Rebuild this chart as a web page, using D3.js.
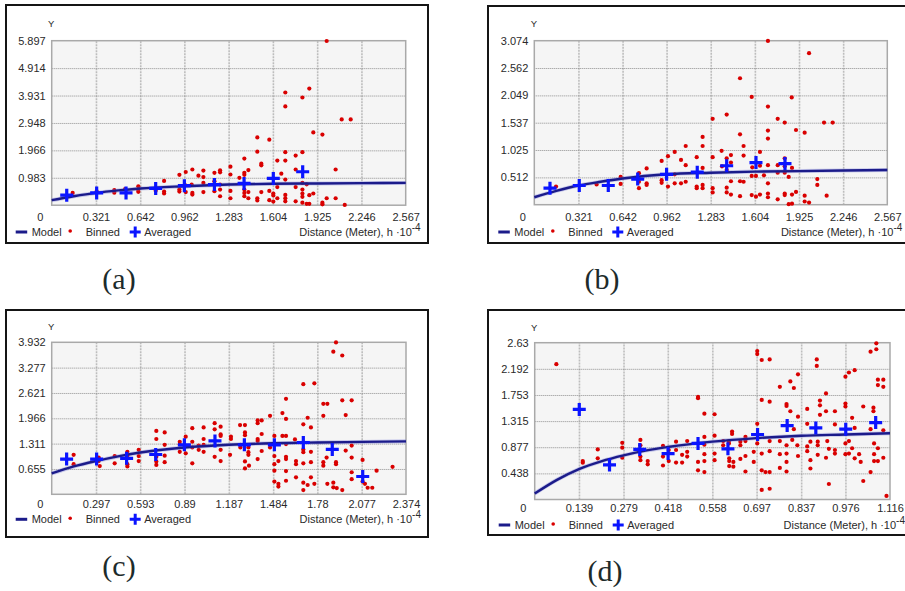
<!DOCTYPE html>
<html>
<head>
<meta charset="utf-8">
<script src="https://cdn.jsdelivr.net/npm/d3@7"></script>
<style>
  html, body { margin: 0; padding: 0; background: #ffffff; }
  svg { display: block; }
  text { font-family: "Liberation Sans", Arial, sans-serif; }
</style>
</head>
<body>
<script>
// ---------------- DATA ----------------
const xTicksAB = ["0.321","0.642","0.962","1.283","1.604","1.925","2.246","2.567"];
const yTicksA  = ["0.983","1.966","2.948","3.931","4.914","5.897"];
const yTicksB  = ["0.512","1.025","1.537","2.049","2.562","3.074"];
const xTicksC  = ["0.297","0.593","0.89","1.187","1.484","1.78","2.077","2.374"];
const yTicksC  = ["0.655","1.311","1.966","2.621","3.277","3.932"];
const xTicksD  = ["0.139","0.279","0.418","0.558","0.697","0.837","0.976","1.116"];
const yTicksD  = ["0.438","0.877","1.315","1.753","2.192","2.63"];

const legendLabels = ["Model", "Binned", "Averaged"];
const axisTitle = "Distance (Meter), h \u00B710";
const axisExp = "-4";
const captions = ["(a)", "(b)", "(c)", "(d)"];

// Binned semivariogram points [distance, gamma]
const binnedA = [
[0.152,0.44],[0.326,0.50],[0.454,0.54],[0.454,0.45],[0.532,0.58],[0.628,0.68],[0.628,0.55],[0.628,0.48],[0.754,0.52],
[0.815,0.87],[0.815,0.49],[0.815,0.42],[0.926,1.09],[0.926,0.56],[0.926,0.49],[0.972,1.19],[0.967,0.72],[0.972,0.47],
[1.020,1.28],[1.015,0.74],[1.020,0.44],[1.020,0.38],[1.064,1.06],[1.100,1.24],[1.100,1.01],[1.100,0.80],[1.100,0.47],
[1.180,1.16],[1.180,0.86],[1.180,0.50],[1.221,1.25],[1.221,1.18],[1.221,0.74],[1.221,0.56],[1.221,0.32],
[1.296,1.38],[1.296,1.10],[1.296,0.51],[1.296,0.25],[1.361,0.98],
[1.397,1.67],[1.397,1.16],[1.397,1.09],[1.397,0.56],[1.397,0.44],[1.397,0.32],[1.426,1.26],[1.426,0.47],[1.426,0.25],
[1.491,2.43],[1.491,1.92],[1.491,0.25],[1.491,0.17],[1.520,1.49],[1.520,1.43],[1.520,0.47],
[1.578,2.35],[1.578,0.51],[1.578,0.18],[1.607,0.42],[1.607,0.35],[1.607,0.13],[1.636,1.60],[1.636,0.65],[1.636,0.25],[1.665,1.13],
[1.694,4.04],[1.694,3.54],[1.694,1.90],[1.694,1.60],[1.694,0.92],[1.694,0.37],[1.694,0.25],[1.694,0.14],
[1.769,1.78],[1.769,1.28],[1.769,0.65],[1.769,0.14],
[1.818,3.86],[1.818,1.90],[1.818,0.80],[1.818,0.56],[1.818,0.42],[1.818,0.30],[1.818,0.09],
[1.849,0.75],[1.849,0.05],[1.868,4.18],[1.868,0.36],[1.868,0.05],[1.897,2.61],[1.897,0.42],
[1.963,2.53],[1.963,0.09],[1.963,0.03],[1.994,5.886],[1.994,0.25],[2.059,1.28],[2.059,0.25],
[2.103,3.075],[2.168,3.075],[2.125,0.01]
];
const binnedB = [
[0.158,0.34],[0.453,0.38],[0.628,0.52],[0.628,0.39],[0.761,0.59],[0.761,0.43],[0.761,0.31],
[0.817,0.68],[0.817,0.40],[0.817,0.37],[0.926,0.82],[0.926,0.46],[0.926,0.41],[0.972,0.91],[0.972,0.34],
[1.021,0.99],[1.021,0.57],[1.021,0.40],[1.067,0.84],[1.067,0.40],[1.101,1.10],[1.101,0.74],[1.101,0.43],
[1.181,0.89],[1.181,0.34],[1.181,0.31],[1.224,1.27],[1.224,1.10],[1.224,0.69],[1.224,0.37],[1.224,0.31],
[1.297,1.61],[1.297,0.89],[1.297,0.31],[1.297,0.23],[1.362,1.01],[1.365,0.72],
[1.399,1.69],[1.399,0.87],[1.399,0.65],[1.399,0.32],[1.399,0.23],[1.430,0.93],[1.430,0.79],[1.430,0.44],[1.430,0.19],
[1.496,2.37],[1.496,1.32],[1.496,0.44],[1.496,0.16],[1.522,1.10],[1.522,0.92],[1.522,0.43],
[1.581,2.02],[1.585,0.70],[1.581,0.54],[1.581,0.18],[1.612,0.54],[1.612,0.15],[1.641,0.99],[1.641,0.73],[1.641,0.19],[1.670,0.55],
[1.699,3.07],[1.699,1.84],[1.699,1.39],[1.699,1.24],[1.699,0.74],[1.699,0.40],[1.699,0.21],[1.699,0.14],
[1.770,1.61],[1.770,0.74],[1.770,0.60],[1.770,0.10],[1.821,1.54],[1.821,0.87],[1.821,0.72],[1.821,0.60],[1.821,0.21],[1.821,0.18],
[1.850,0.52],[1.850,0.01],[1.872,2.01],[1.874,0.69],[1.874,0.19],[1.874,0.02],[1.903,1.40],[1.903,0.24],
[1.966,1.35],[1.966,0.17],[1.966,0.06],[1.998,2.84],[1.998,0.04],[2.058,0.48],[2.058,0.37],
[2.107,1.54],[2.170,1.54],[2.126,0.17]
];
const binnedC = [
[0.147,1.02],[0.147,0.78],[0.315,0.95],[0.315,0.86],[0.322,0.73],[0.422,0.99],[0.422,0.80],
[0.507,1.10],[0.507,1.00],[0.507,0.78],[0.507,0.72],[0.583,1.15],[0.583,0.99],[0.583,0.86],
[0.701,1.64],[0.701,1.43],[0.701,0.97],[0.701,0.85],[0.701,0.76],[0.757,1.60],[0.757,1.28],[0.757,1.00],[0.757,0.83],
[0.858,1.36],[0.858,1.29],[0.858,1.10],[0.898,1.49],[0.898,1.06],[0.942,1.71],[0.942,1.36],[0.942,1.21],[0.942,0.80],
[0.985,1.26],[0.985,1.15],[1.018,1.73],[1.018,1.43],[1.018,1.28],[1.018,1.10],[1.092,1.84],[1.092,1.68],[1.092,0.97],
[1.132,1.75],[1.132,1.55],[1.132,1.51],[1.132,1.15],[1.132,0.86],[1.195,1.02],[1.201,1.49],[1.201,1.43],
[1.262,1.79],[1.264,1.28],[1.264,1.21],[1.295,1.79],[1.295,1.60],[1.295,1.53],[1.295,0.85],[1.295,0.67],
[1.318,1.21],[1.318,1.09],[1.318,1.02],[1.322,0.74],[1.380,1.91],[1.380,1.84],[1.380,1.43],[1.380,1.38],[1.380,0.91],
[1.407,1.91],[1.407,1.56],[1.407,1.12],[1.463,2.03],[1.463,1.21],
[1.492,1.51],[1.492,0.99],[1.492,0.78],[1.492,0.61],[1.492,0.33],[1.519,0.86],[1.519,0.27],[1.519,0.20],
[1.546,2.10],[1.546,1.51],[1.570,2.47],[1.570,1.95],[1.570,1.51],[1.570,1.30],[1.570,0.97],[1.570,0.91],[1.570,0.60],[1.570,0.35],
[1.630,1.42],[1.637,0.86],[1.637,0.78],[1.637,0.44],
[1.686,2.85],[1.686,1.81],[1.686,1.16],[1.686,1.09],[1.686,0.80],[1.686,0.30],[1.686,0.11],
[1.715,1.98],[1.715,0.24],[1.737,1.73],[1.737,1.10],[1.737,0.83],[1.737,0.44],[1.760,2.87],[1.760,0.27],
[1.820,2.34],[1.820,2.03],[1.820,0.83],[1.820,0.74],[1.842,0.95],[1.847,2.34],[1.847,0.27],
[1.887,3.69],[1.887,0.30],[1.887,0.18],[1.905,3.93],[1.905,0.83],[1.905,0.78],[1.910,0.16],
[1.947,3.59],[1.947,2.43],[1.947,0.11],[1.970,2.05],[1.970,1.13],
[2.010,2.43],[2.010,1.26],[2.010,0.95],[2.010,0.57],[2.010,0.39],
[2.083,0.89],[2.083,0.33],[2.099,0.27],[2.117,0.17],[2.148,0.17],[2.177,0.61],[2.284,0.71]
];
const binnedD = [
[0.068,2.27],[0.151,0.645],[0.151,0.617],[0.198,0.84],[0.198,0.69],[0.275,0.95],[0.275,0.87],[0.275,0.70],
[0.332,1.00],[0.332,0.91],[0.332,0.72],[0.332,0.66],[0.355,0.645],[0.355,0.59],
[0.403,0.90],[0.403,0.72],[0.403,0.57],[0.421,0.83],[0.421,0.645],[0.444,0.97],[0.444,0.83],[0.444,0.62],
[0.463,0.75],[0.463,0.62],[0.479,0.98],[0.479,0.80],[0.479,0.72],
[0.513,1.72],[0.513,1.70],[0.513,0.63],[0.513,0.49],[0.533,1.44],[0.533,1.05],[0.533,0.92],[0.533,0.76],[0.533,0.645],[0.533,0.46],
[0.565,1.43],[0.565,1.07],[0.565,0.77],[0.565,0.66],[0.592,0.98],[0.592,0.91],[0.610,0.98],[0.610,0.94],
[0.611,0.69],[0.611,0.645],[0.611,0.56],[0.620,1.14],[0.620,1.10],[0.624,0.63],[0.624,0.55],
[0.646,0.97],[0.646,0.91],[0.646,0.68],[0.662,1.05],[0.662,0.98],[0.662,0.73],[0.662,0.47],[0.688,0.80],[0.688,0.63],
[0.699,2.49],[0.699,2.44],[0.699,1.27],[0.699,0.94],[0.713,2.34],[0.713,1.67],[0.713,0.77],[0.713,0.49],[0.713,0.16],
[0.725,0.46],[0.738,2.35],[0.738,1.64],[0.738,0.98],[0.738,0.81],[0.738,0.46],[0.738,0.18],
[0.770,1.89],[0.770,0.98],[0.770,0.76],[0.770,0.53],[0.791,1.60],[0.791,1.57],[0.791,0.91],[0.791,0.77],[0.791,0.63],[0.791,0.47],
[0.803,1.98],[0.803,1.48],[0.809,1.00],[0.814,1.87],[0.814,1.18],[0.825,0.91],[0.827,2.10],[0.827,1.39],[0.827,0.73],
[0.856,1.52],[0.856,1.27],[0.856,0.89],[0.856,0.81],[0.866,0.97],[0.866,0.66],[0.866,0.52],
[0.886,2.35],[0.886,2.24],[0.889,0.97],[0.889,0.91],[0.889,0.75],[0.896,1.66],[0.896,1.58],[0.896,1.42],
[0.915,1.78],[0.915,1.48],[0.915,0.70],[0.919,0.98],[0.924,0.85],[0.924,0.26],
[0.943,1.48],[0.943,1.26],[0.943,0.83],[0.943,0.77],[0.976,2.06],[0.976,1.61],[0.976,1.56],[0.976,0.94],[0.976,0.76],
[0.987,2.13],[0.987,0.98],[0.987,0.77],[0.997,1.37],[0.997,0.86],[1.005,2.17],[1.005,1.20],[1.005,0.69],
[1.019,0.76],[1.024,0.63],[1.032,1.56],[1.032,0.31],[1.055,2.48],[1.055,1.18],[1.055,0.46],
[1.064,1.54],[1.064,1.48],[1.066,0.94],[1.066,0.76],[1.066,0.645],[1.073,2.62],[1.073,2.52],
[1.078,2.01],[1.078,1.92],[1.078,0.86],[1.078,0.645],[1.095,2.01],[1.095,1.89],[1.095,1.16],[1.095,0.70],[1.105,0.06]
];

// Averaged points [distance, gamma]
const averagedA = [[0.109,0.36],[0.326,0.44],[0.539,0.44],[0.754,0.60],[0.962,0.70],[1.180,0.74],[1.395,0.78],[1.607,0.96],[1.820,1.20]];
const averagedB = [[0.114,0.31],[0.327,0.36],[0.538,0.36],[0.752,0.48],[0.962,0.57],[1.185,0.61],[1.399,0.73],[1.612,0.79],[1.823,0.77]];
const averagedC = [[0.100,0.91],[0.301,0.91],[0.502,0.93],[0.697,1.03],[0.889,1.28],[1.094,1.38],[1.291,1.28],[1.492,1.28],[1.686,1.34],[1.880,1.16],[2.084,0.46]];
const averagedD = [[0.140,1.51],[0.235,0.58],[0.330,0.84],[0.419,0.77],[0.513,0.94],[0.607,0.85],[0.700,1.09],[0.793,1.24],[0.883,1.20],[0.977,1.18],[1.071,1.29]];

// Model curve samples [distance, gamma]
const modelA = [[0,0.18],[0.160,0.32],[0.321,0.44],[0.482,0.53],[0.642,0.60],[0.962,0.68],[1.283,0.74],[1.604,0.77],[1.925,0.78],[2.246,0.79],[2.567,0.80]];
const modelB = [[0,0.14],[0.160,0.26],[0.321,0.36],[0.482,0.43],[0.642,0.49],[0.962,0.57],[1.283,0.60],[1.604,0.62],[1.925,0.63],[2.246,0.64],[2.567,0.65]];
const modelC = [[0,0.54],[0.148,0.72],[0.297,0.86],[0.445,0.98],[0.593,1.08],[0.89,1.21],[1.187,1.28],[1.484,1.32],[1.78,1.34],[2.077,1.355],[2.374,1.37]];
const modelD = [[0,0.10],[0.07,0.33],[0.139,0.51],[0.209,0.64],[0.279,0.74],[0.348,0.82],[0.418,0.88],[0.558,0.97],[0.697,1.03],[0.837,1.07],[0.976,1.09],[1.116,1.11]];

// ---------------- LAYOUT ----------------
const panels = [
  {frame:[6,5,428,243],  plot:[51.7,40.7,405.7,205.2], labY:217,   legY:232,   yLabY:24,    cap:[119,289],
   xt:xTicksAB, yt:yTicksA, bin:binnedA, avg:averagedA, model:modelA, caption:captions[0]},
  {frame:[488,6,907,243], plot:[534.3,40.7,887.3,204.7], labY:217,  legY:232,   yLabY:24,    cap:[602,289],
   xt:xTicksAB, yt:yTicksB, bin:binnedB, avg:averagedB, model:modelB, caption:captions[1]},
  {frame:[6,310,428,537], plot:[51.7,342.3,406,494.3],  labY:504.3, legY:519.3, yLabY:326.7, cap:[119,576],
   xt:xTicksC, yt:yTicksC, bin:binnedC, avg:averagedC, model:modelC, caption:captions[2]},
  {frame:[488,310,907,535], plot:[534.7,342.7,890,499.5], labY:508.3, legY:525, yLabY:327.3, cap:[605,581],
   xt:xTicksD, yt:yTicksD, bin:binnedD, avg:averagedD, model:modelD, caption:captions[3]}
];

const COL_DOT = "#d90000", COL_CROSS = "#0a14ff", COL_MODEL = "#1b1b8a", COL_TXT = "#2a2a2a";
const crossPath = s => `M${-s},0H${s}M0,${-s}V${s}`;

const svg = d3.select("body").append("svg").attr("width", 905).attr("height", 591);
svg.append("rect").attr("width", 905).attr("height", 591).attr("fill", "#ffffff");

panels.forEach(p => {
  const [fx0, fy0, fx1, fy1] = p.frame;
  const [L, T, R, B] = p.plot;
  const g = svg.append("g");

  g.append("rect").attr("x", fx0).attr("y", fy0).attr("width", fx1 - fx0).attr("height", fy1 - fy0)
    .attr("fill", "#ffffff").attr("stroke", "#151515").attr("stroke-width", 2);

  const xVals = p.xt.map(Number), yVals = p.yt.map(Number);
  const x = d3.scaleLinear().domain([0, xVals[xVals.length - 1]]).range([L, R]);
  const y = d3.scaleLinear().domain([0, yVals[yVals.length - 1]]).range([B, T]);

  g.append("rect").attr("x", L).attr("y", T).attr("width", R - L).attr("height", B - T).attr("fill", "#f5f5f5");

  // grid
  const gx = g.append("g").attr("transform", `translate(0,${B})`)
    .call(d3.axisBottom(x).tickValues(xVals.slice(0, -1)).tickSize(-(B - T)).tickFormat(""));
  gx.select(".domain").remove();
  gx.selectAll(".tick line").attr("stroke", "#bdbdbd").attr("stroke-width", 1.6).attr("stroke-dasharray", "2,1");
  const gy = g.append("g").attr("transform", `translate(${L},0)`)
    .call(d3.axisLeft(y).tickValues(yVals.slice(0, -1)).tickSize(-(R - L)).tickFormat(""));
  gy.select(".domain").remove();
  gy.selectAll(".tick line").attr("stroke", "#8e8e8e").attr("stroke-width", 1).attr("stroke-dasharray", "1,1");

  g.append("rect").attr("x", L).attr("y", T).attr("width", R - L).attr("height", B - T)
    .attr("fill", "none").attr("stroke", "#a9a9a9").attr("stroke-width", 1.5);

  // tick labels
  const lx = g.append("g").attr("transform", `translate(0,${B})`)
    .call(d3.axisBottom(x).tickValues(xVals).tickSize(0).tickPadding(p.labY - B - 3.9).tickFormat((d, i) => p.xt[i]));
  lx.select(".domain").remove();
  lx.selectAll("text").attr("fill", COL_TXT).style("font-size", "11px").style("font-family", '"Liberation Sans", Arial, sans-serif');
  const ly = g.append("g").attr("transform", `translate(${L},0)`)
    .call(d3.axisLeft(y).tickValues(yVals).tickSize(0).tickPadding(6).tickFormat((d, i) => p.yt[i]));
  ly.select(".domain").remove();
  ly.selectAll("text").attr("fill", COL_TXT).style("font-size", "11px").style("font-family", '"Liberation Sans", Arial, sans-serif');

  g.append("text").attr("x", L - 11.5).attr("y", p.labY).attr("dy", "0.35em").attr("text-anchor", "middle")
    .attr("fill", COL_TXT).style("font-size", "11px").text("0");
  g.append("text").attr("x", L - 0.5).attr("y", p.yLabY).attr("dy", "0.35em").attr("text-anchor", "middle")
    .attr("fill", COL_TXT).style("font-size", "9.5px").text("Y");

  // marks
  g.append("g").selectAll("circle").data(p.bin).join("circle")
    .attr("cx", d => x(d[0])).attr("cy", d => y(d[1])).attr("r", 2.1).attr("fill", COL_DOT);

  const line = d3.line().x(d => x(d[0])).y(d => y(d[1])).curve(d3.curveMonotoneX);
  g.append("path").datum(p.model).attr("d", line).attr("fill", "none")
    .attr("stroke", "#6f74d8").attr("stroke-opacity", 0.35).attr("stroke-width", 4);
  g.append("path").datum(p.model).attr("d", line).attr("fill", "none")
    .attr("stroke", COL_MODEL).attr("stroke-width", 2.4);

  g.append("g").selectAll("path").data(p.avg).join("path")
    .attr("transform", d => `translate(${x(d[0])},${y(d[1])})`)
    .attr("d", crossPath(6.5)).attr("stroke", COL_CROSS).attr("stroke-width", 3.2).attr("fill", "none");

  // legend
  const ly0 = p.legY;
  g.append("line").attr("x1", L - 36).attr("x2", L - 24.5).attr("y1", ly0).attr("y2", ly0)
    .attr("stroke", COL_MODEL).attr("stroke-width", 3);
  g.append("text").attr("x", L - 20).attr("y", ly0).attr("dy", "0.35em").attr("fill", COL_TXT)
    .style("font-size", "11px").text(legendLabels[0]);
  g.append("circle").attr("cx", L + 18.5).attr("cy", ly0 - 1).attr("r", 1.8).attr("fill", COL_DOT);
  g.append("text").attr("x", L + 34).attr("y", ly0).attr("dy", "0.35em").attr("fill", COL_TXT)
    .style("font-size", "11px").text(legendLabels[1]);
  g.append("path").attr("transform", `translate(${L + 83.5},${ly0})`).attr("d", crossPath(5.5))
    .attr("stroke", COL_CROSS).attr("stroke-width", 3).attr("fill", "none");
  g.append("text").attr("x", L + 92.5).attr("y", ly0).attr("dy", "0.35em").attr("fill", COL_TXT)
    .style("font-size", "11px").text(legendLabels[2]);

  const t = g.append("text").attr("x", R + 15).attr("y", ly0).attr("dy", "0.35em").attr("text-anchor", "end")
    .attr("fill", COL_TXT).style("font-size", "11px");
  t.append("tspan").text(axisTitle);
  t.append("tspan").attr("dy", "-0.5em").style("font-size", "10px").text(axisExp);

  // caption
  svg.append("text").attr("x", p.cap[0]).attr("y", p.cap[1]).attr("text-anchor", "middle")
    .attr("fill", "#1d2b2b").style("font-family", '"Liberation Serif", "Times New Roman", serif')
    .style("font-size", "30px").text(p.caption);
});
</script>
</body>
</html>
